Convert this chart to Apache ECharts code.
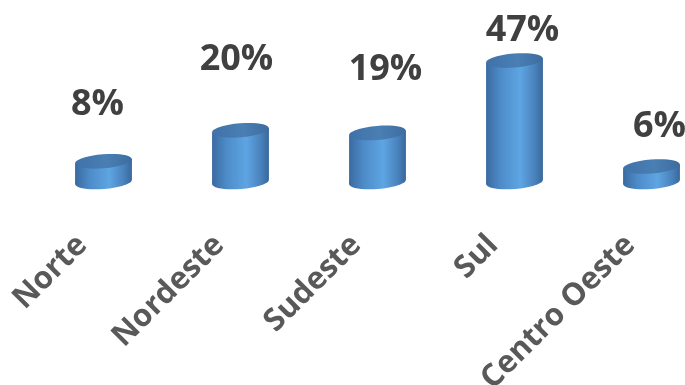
<!DOCTYPE html>
<html>
<head>
<meta charset="utf-8">
<script src="https://cdn.jsdelivr.net/npm/echarts@6/dist/echarts.min.js"></script>
<style>
  html, body { margin: 0; padding: 0; background: #ffffff; }
  #chart { width: 685px; height: 385px; }
</style>
</head>
<body>
<div id="chart"></div>
<script>
// Regional share, in percent
const regions = ['Norte', 'Nordeste', 'Sudeste', 'Sul', 'Centro Oeste'];
const shares = [8, 20, 19, 47, 6];

// Where each value label sits relative to its cylinder's top face (px)
const labelLift = [57, 71, 63, 30, 40];
const labelNudge = [-6, -4, 8, 8, 8];

const chart = echarts.init(document.getElementById('chart'), null, { renderer: 'canvas' });

const TILT = 0.08;        // slight perspective tilt of the elliptic faces (rad)
const RY = 7;             // vertical radius of the elliptic faces

function bodyFill() {
  return new echarts.graphic.LinearGradient(0, 0, 1, 0, [
    { offset: 0, color: '#3a6aa0' },
    { offset: 0.25, color: '#4d8bc8' },
    { offset: 0.6, color: '#5ea5e3' },
    { offset: 0.85, color: '#4a83bd' },
    { offset: 1, color: '#39689b' }
  ]);
}

function topFill() {
  return new echarts.graphic.LinearGradient(0, 0, 1, 0, [
    { offset: 0, color: '#3f72a8' },
    { offset: 0.55, color: '#4a7fb4' },
    { offset: 1, color: '#3d6c9f' }
  ]);
}

function renderCylinder(params, api) {
  const idx = params.dataIndex;
  const top = api.coord([api.value(0), api.value(1)]);
  const base = api.coord([api.value(0), 0]);
  const rx = api.size([1, 0])[0] * 0.415 / 2;
  const cx = top[0];
  const d = rx * Math.sin(TILT);
  return {
    type: 'group',
    children: [
      {
        type: 'ellipse',
        shape: { cx: cx, cy: base[1], rx: rx, ry: RY },
        rotation: TILT, originX: cx, originY: base[1],
        style: { fill: bodyFill() }
      },
      {
        type: 'polygon',
        shape: {
          points: [
            [cx - rx, top[1] + d], [cx + rx, top[1] - d],
            [cx + rx, base[1] - d], [cx - rx, base[1] + d]
          ]
        },
        style: { fill: bodyFill() }
      },
      {
        type: 'ellipse',
        shape: { cx: cx, cy: top[1], rx: rx, ry: RY },
        rotation: TILT, originX: cx, originY: top[1],
        style: { fill: topFill() }
      },
      {
        type: 'text',
        x: cx + labelNudge[idx],
        y: top[1] - labelLift[idx],
        style: {
          text: api.value(1) + '%',
          fill: '#404040',
          font: 'bold 36px "Open Sans", sans-serif',
          align: 'center',
          verticalAlign: 'middle'
        }
      }
    ]
  };
}

chart.setOption({
  animation: false,
  // the plot runs past the right edge, so the last category sits near the border
  grid: { left: 35, top: 27, width: 685, height: 155, containLabel: false, outerBoundsMode: 'none' },
  xAxis: {
    type: 'category',
    data: regions,
    axisLine: { show: false },
    axisTick: { show: false },
    axisLabel: {
      interval: 0,
      rotate: 45,
      margin: 37,
      padding: [0, 30, 0, 0],
      color: '#595959',
      fontFamily: 'Open Sans',
      fontWeight: 'bold',
      fontSize: 31
    }
  },
  yAxis: {
    type: 'value',
    min: 0,
    max: 60,
    show: false,
    splitLine: { show: false }
  },
  series: [{
    type: 'custom',
    renderItem: renderCylinder,
    encode: { x: 0, y: 1 },
    data: regions.map((r, i) => [i, shares[i]]),
    clip: false
  }]
});
</script>
</body>
</html>
